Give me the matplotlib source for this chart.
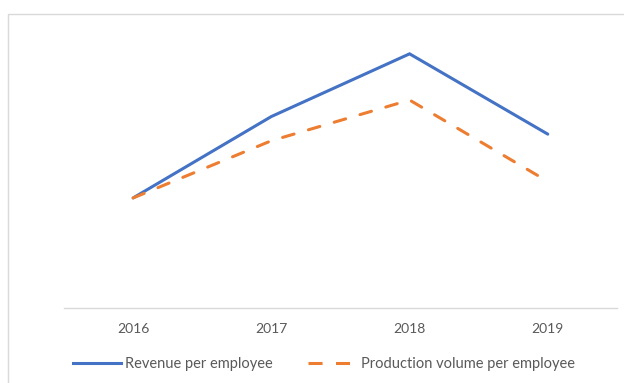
import matplotlib.pyplot as plt
from matplotlib.patches import Rectangle
from matplotlib.lines import Line2D

years = ["2016", "2017", "2018", "2019"]
revenue = [100, 174, 231, 158]
production = [100, 152, 189, 115]

BLUE = "#4472C4"
ORANGE = "#ED7D31"
TEXT = "#595959"
LW = 2.2
DASH = (3.9, 4.9)

plt.rcParams["font.family"] = ["Lato", "DejaVu Sans"]

fig = plt.figure(figsize=(6.24, 3.83), dpi=100)
ax = fig.add_axes([0.1026, 0.196, 0.886, 0.718])

x = range(len(years))
ax.plot(x, revenue, color=BLUE, lw=LW, solid_capstyle="round",
        solid_joinstyle="miter")
ax.plot(x, production, color=ORANGE, lw=LW, dashes=DASH,
        dash_capstyle="round")

ax.set_xlim(-0.5, len(years) - 0.5)
ax.set_ylim(0, 250)
ax.set_xticks(list(x))
ax.set_xticklabels(years, color=TEXT, fontsize=10)
ax.tick_params(axis="x", length=0, pad=11)
ax.set_yticks([])
for side in ["left", "right", "top"]:
    ax.spines[side].set_visible(False)
ax.spines["bottom"].set_color("#d9d9d9")
ax.spines["bottom"].set_linewidth(1.0)

# chart frame, running off the right and bottom edges
top = 1 - 14 / 383
fig.patches.append(Rectangle((7.5 / 624, -0.1), 1.2, top + 0.1,
                             transform=fig.transFigure, fill=False,
                             edgecolor="#d9d9d9", lw=1.0))

handles = [Line2D([], [], color=BLUE, lw=LW),
           Line2D([], [], color=ORANGE, lw=LW, dashes=(4.6, 4.4),
                  dash_capstyle="butt")]
leg = fig.legend(handles, ["Revenue per employee", "Production volume per employee"],
                 loc="center", bbox_to_anchor=(0.519, 1 - 364 / 383), ncol=2,
                 frameon=False, fontsize=10.5, handlelength=3.3,
                 handletextpad=0.3, columnspacing=2.4)
for t in leg.get_texts():
    t.set_color(TEXT)

fig.savefig("out.png", dpi=100)
